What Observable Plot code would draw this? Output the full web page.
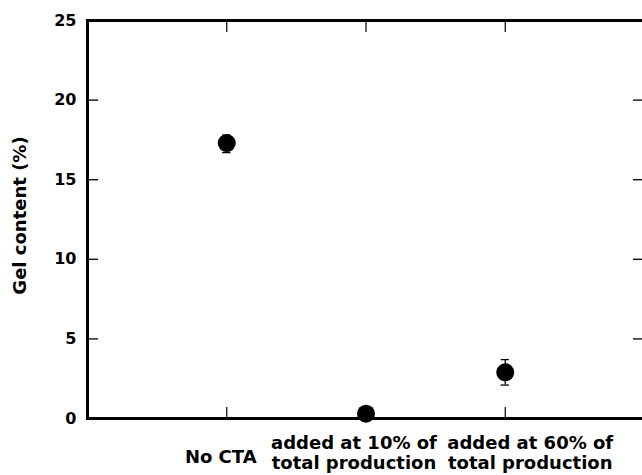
<!DOCTYPE html>
<html><head><meta charset="utf-8">
<script src="https://cdn.jsdelivr.net/npm/d3@7"></script>
<script src="https://cdn.jsdelivr.net/npm/@observablehq/plot@0.6"></script>
<style>html,body{margin:0;padding:0;background:#fff;overflow:hidden;}</style>
</head><body><div id="chart"></div>
<script>
const categories = ["No CTA", "added at 10% of\ntotal production", "added at 60% of\ntotal production"];
const gelContent = [17.3, 0.3, 2.9];
const gelLow = [16.7, 0.2, 2.1];
const gelHigh = [17.8, 0.4, 3.7];
const yTicks = [0, 5, 10, 15, 20, 25];
const yInnerTicks = [5, 10, 15, 20];
const yTitle = "Gel content (%)";

const data = categories.map((c, i) => ({cat: c, pos: i + 1, value: gelContent[i], lo: gelLow[i], hi: gelHigh[i]}));

const W = 642, H = 475, ML = 87, MR = -2, MT = 20, MB = 57;
const innerW = W - ML - MR, innerH = H - MT - MB;
const labelStyle = {fontSize: 18, fontWeight: "bold", lineHeight: 1.11, lineAnchor: "top", frameAnchor: "bottom"};

const chart = Plot.plot({
  width: W, height: H,
  marginLeft: ML, marginRight: MR, marginTop: MT, marginBottom: MB,
  style: {fontFamily: "DejaVu Sans", fontWeight: "bold", fontSize: "16px", color: "black", background: "white"},
  x: {domain: [0, categories.length + 1], axis: null},
  y: {domain: [0, 25], ticks: yTicks, tickSize: 0, tickPadding: 11, label: null},
  marks: [
    Plot.ruleY(yInnerTicks, {insetRight: innerW - 11, strokeWidth: 1.3}),
    Plot.ruleY(yInnerTicks, {insetLeft: innerW - 11, strokeWidth: 1.3}),
    Plot.ruleX(data, {x: "pos", insetBottom: innerH - 12, strokeWidth: 1.2}),
    Plot.ruleX(data, {x: "pos", insetTop: innerH - 11, strokeWidth: 1.2}),
    Plot.ruleX(data, {x: "pos", y1: "lo", y2: "hi", strokeWidth: 1.3}),
    Plot.ruleY(data, {y: "lo", x1: d => d.pos - 0.03, x2: d => d.pos + 0.03, strokeWidth: 1.3}),
    Plot.ruleY(data, {y: "hi", x1: d => d.pos - 0.03, x2: d => d.pos + 0.03, strokeWidth: 1.3}),
    Plot.frame({stroke: "black", strokeWidth: 3}),
    Plot.dot(data, {x: "pos", y: "value", r: 9, fill: "black", stroke: "none"}),
    Plot.text([data[0]], {x: "pos", text: "cat", dx: -6, dy: 30, ...labelStyle}),
    Plot.text([data[1]], {x: "pos", text: "cat", dx: -12, dy: 16, ...labelStyle}),
    Plot.text([data[2]], {x: "pos", text: "cat", dx: 25, dy: 16, ...labelStyle}),
    Plot.text([yTitle], {text: d => d, frameAnchor: "left", textAnchor: "middle", rotate: -90, dx: -67, dy: -4, fontSize: 18, fontWeight: "bold"})
  ]
});
document.getElementById("chart").append(chart);
</script>
</body></html>
